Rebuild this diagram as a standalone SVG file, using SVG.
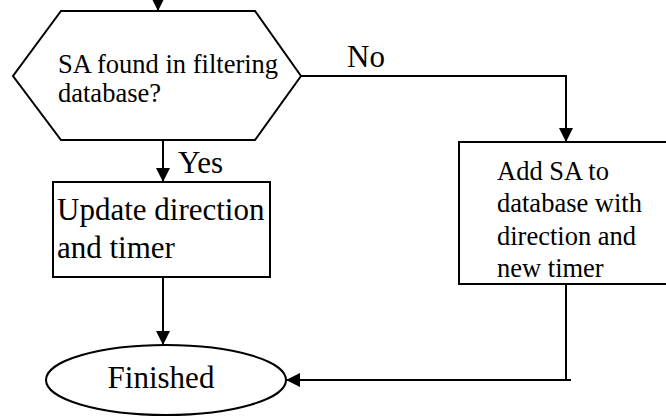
<svg xmlns="http://www.w3.org/2000/svg" width="666" height="416" viewBox="0 0 666 416">
<defs>
<style>
.shape{fill:#fff;stroke:#000;stroke-width:2}
.line{fill:none;stroke:#000;stroke-width:2}
text{fill:#000}
.big{font-size:31px}
.small{font-size:26.5px}
</style>
<marker id="ah" viewBox="0 0 14 14" refX="14" refY="7" markerWidth="14" markerHeight="14" markerUnits="userSpaceOnUse" orient="auto">
<path d="M0,0 L14,7 L0,14 Z" fill="#000"/>
</marker>
</defs>
<rect width="666" height="416" fill="#fff"/>
<g id="connectors">
<path class="line" d="M158,0 V11" marker-end="url(#ah)"/>
<path class="line" d="M301,76 H566 V142" marker-end="url(#ah)"/>
<path class="line" d="M163,140 V182" marker-end="url(#ah)"/>
<path class="line" d="M163,277 V345" marker-end="url(#ah)"/>
<path class="line" d="M566,284 V380"/>
<path class="line" d="M571,380 H286" marker-end="url(#ah)"/>
</g>
<g font-family="'Liberation Serif', 'Times New Roman', serif">
<g id="decision">
<polygon class="shape" points="61,11 255,11 301,76 255,140 61,140 13,76"/>
<text class="small" x="58" y="73">SA found in filtering</text>
<text class="small" x="58" y="102">database?</text>
</g>
<g id="label-no"><text class="big" x="347" y="67">No</text></g>
<g id="label-yes"><text class="big" x="178" y="173">Yes</text></g>
<g id="update">
<rect class="shape" x="53" y="182" width="217" height="95"/>
<text class="big" x="57" y="220">Update direction</text>
<text class="big" x="57" y="258">and timer</text>
</g>
<g id="add">
<rect class="shape" x="459" y="142" width="230" height="142"/>
<text class="small" x="497" y="180">Add SA to</text>
<text class="small" x="497" y="212">database with</text>
<text class="small" x="497" y="245">direction and</text>
<text class="small" x="497" y="277">new timer</text>
</g>
<g id="finished">
<ellipse class="shape" cx="166" cy="380" rx="120" ry="35"/>
<text class="big" x="161" y="388" text-anchor="middle">Finished</text>
</g>
</g>
</svg>
